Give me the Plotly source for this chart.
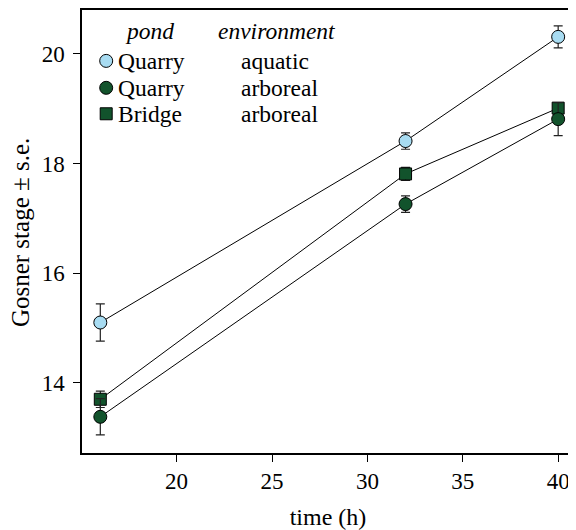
import plotly.graph_objects as go

time_h = [16, 32, 40]
quarry_aquatic = [15.10, 18.41, 20.31]
quarry_aquatic_se = [0.34, 0.15, 0.20]
quarry_arboreal = [13.38, 17.26, 18.81]
quarry_arboreal_se = [0.33, 0.15, 0.30]
bridge_arboreal = [13.70, 17.81, 19.01]
bridge_arboreal_se = [0.15, 0.12, 0.08]

series = [
    ("Quarry", "aquatic", quarry_aquatic, quarry_aquatic_se, "circle", "#a8dcf2", 13),
    ("Bridge", "arboreal", bridge_arboreal, bridge_arboreal_se, "square", "#12532c", 12),
    ("Quarry", "arboreal", quarry_arboreal, quarry_arboreal_se, "circle", "#12532c", 13),
]
legend_order = [0, 2, 1]

FONT = "Liberation Serif"
fig = go.Figure()

for pond, env, vals, se, sym, col, size in series:
    fig.add_trace(go.Scatter(
        x=time_h, y=vals, mode="lines+markers",
        line=dict(color="black", width=1),
        marker=dict(symbol=sym, size=size, color=col, line=dict(color="black", width=1)),
        error_y=dict(type="data", array=se, visible=True, color="#222", thickness=1.2, width=4.5),
        showlegend=False, name=f"{pond} {env}",
    ))

# screen geometry of the plot area (page has an 8px body margin)
OFF = 8
L, T, W, H = 81.7, 9, 494.3, 444
def px(x):
    return (x - L) / W
def py(y):
    return (T + H - y) / H

LEG = 23.5
rows_y = [60, 87, 113]
for (i, ry) in zip(legend_order, rows_y):
    pond, env, vals, se, sym, col, size = series[i]
    fig.add_trace(go.Scatter(
        x=[px(106)], y=[py(ry)], mode="markers", xaxis="x2", yaxis="y2",
        marker=dict(symbol=sym, size=size, color=col, line=dict(color="black", width=1)),
        showlegend=False, hoverinfo="skip",
    ))
    fig.add_annotation(x=px(116), y=py(ry), xref="paper", yref="paper", text=pond,
                       showarrow=False, xanchor="left", yanchor="middle",
                       font=dict(family=FONT, size=LEG, color="black"))
    fig.add_annotation(x=px(239), y=py(ry), xref="paper", yref="paper", text=env,
                       showarrow=False, xanchor="left", yanchor="middle",
                       font=dict(family=FONT, size=LEG, color="black"))

fig.add_annotation(x=px(150), y=py(30), xref="paper", yref="paper", text="<i>pond</i>",
                   showarrow=False, xanchor="center", yanchor="middle",
                   font=dict(family=FONT, size=LEG, color="black"))
fig.add_annotation(x=px(277), y=py(30), xref="paper", yref="paper", text="<i>environment</i>",
                   showarrow=False, xanchor="center", yanchor="middle",
                   font=dict(family=FONT, size=LEG, color="black"))

fig.add_annotation(x=px(20), y=py(232), xref="paper", yref="paper",
                   text="Gosner stage ± s.e.", textangle=-90, showarrow=False,
                   xanchor="center", yanchor="middle",
                   font=dict(family=FONT, size=25, color="black"))

fig.update_layout(
    width=576 - OFF, height=530 - OFF,
    margin=dict(l=L - OFF, r=0, t=T - OFF, b=530 - T - H, pad=0),
    paper_bgcolor="white", plot_bgcolor="white",
    font=dict(family=FONT, size=23, color="black"),
    xaxis=dict(range=[15.04, 40.83], tickvals=[20, 25, 30, 35, 40],
               showgrid=False, zeroline=False, showline=True, linecolor="black", linewidth=1.5,
               mirror=True, ticks="outside", ticklen=7, tickwidth=1, tickcolor="black",
               title=dict(text="time (h)", font=dict(family=FONT, size=24), standoff=15),
               tickfont=dict(family=FONT, size=23)),
    yaxis=dict(range=[12.72, 20.8], tickvals=[14, 16, 18, 20],
               showgrid=False, zeroline=False, showline=True, linecolor="black", linewidth=1.5,
               mirror=True, ticks="outside", ticklen=7, tickwidth=1, tickcolor="black",
               ticklabelstandoff=4,
               tickfont=dict(family=FONT, size=23)),
    xaxis2=dict(domain=[0, 1], range=[0, 1], visible=False, anchor="y2", overlaying="x"),
    yaxis2=dict(domain=[0, 1], range=[0, 1], visible=False, anchor="x2", overlaying="y"),
)

fig.write_html("out.html")
